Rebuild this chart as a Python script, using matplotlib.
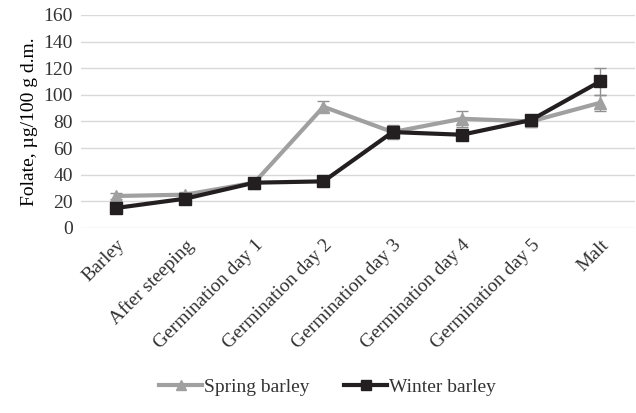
import numpy as np
import matplotlib.pyplot as plt
from matplotlib.lines import Line2D

plt.rcParams['font.family'] = ['Liberation Serif', 'DejaVu Serif']
plt.rcParams['text.color'] = '#333333'
plt.rcParams['ytick.color'] = '#333333'
plt.rcParams['xtick.color'] = '#333333'

stages = ["Barley", "After steeping", "Germination day 1", "Germination day 2",
          "Germination day 3", "Germination day 4", "Germination day 5", "Malt"]
spring = [24, 25, 34, 91, 72, 82, 80, 94]
spring_err = [2, 2, 2, 4, 5, 6, 4, 6]
winter = [15, 22, 34, 35, 72, 70, 81, 110]
winter_err = [2, 2, 2, 2, 4, 2, 4, 10]

fig = plt.figure(figsize=(6.36, 4.13), dpi=100)
ax = fig.add_axes([0.128, 0.448, 0.870, 0.516])
x = np.arange(len(stages))

ax.errorbar(x, spring, yerr=spring_err, color="#a0a0a0", lw=3, marker="^", ms=9,
            ecolor="#909090", elinewidth=1, capsize=4, capthick=1, zorder=3)
ax.errorbar(x, winter, yerr=winter_err, color="#231f20", lw=3, marker="s", ms=9,
            ecolor="#909090", elinewidth=1, capsize=4, capthick=1, zorder=4)

ax.set_xlim(-0.5, len(stages) - 0.5)
ax.set_ylim(0, 160)
ax.set_yticks(np.arange(0, 161, 20))
ax.set_xticks(x)
ax.set_xticklabels(stages, rotation=45, ha="right", rotation_mode="anchor", fontsize=14)
ax.tick_params(axis="y", labelsize=14, length=0, pad=6)
ax.tick_params(axis="x", length=0, pad=6)
ax.grid(axis="y", color="#d9d9d9", lw=1)
ax.set_axisbelow(True)
for s in ax.spines.values():
    s.set_visible(False)
ax.set_ylabel("Folate, µg/100 g d.m.", fontsize=14, labelpad=4)

handles = [Line2D([], [], color="#a0a0a0", lw=3, marker="^", ms=7),
           Line2D([], [], color="#231f20", lw=3, marker="s", ms=7)]
ax.legend(handles, ["Spring barley", "Winter barley"], loc="lower center",
          bbox_to_anchor=(0.445, -0.87), ncol=2, frameon=False, fontsize=14,
          handlelength=2.2, handletextpad=0.1, columnspacing=1.8)

fig.savefig("out.png", dpi=100)
